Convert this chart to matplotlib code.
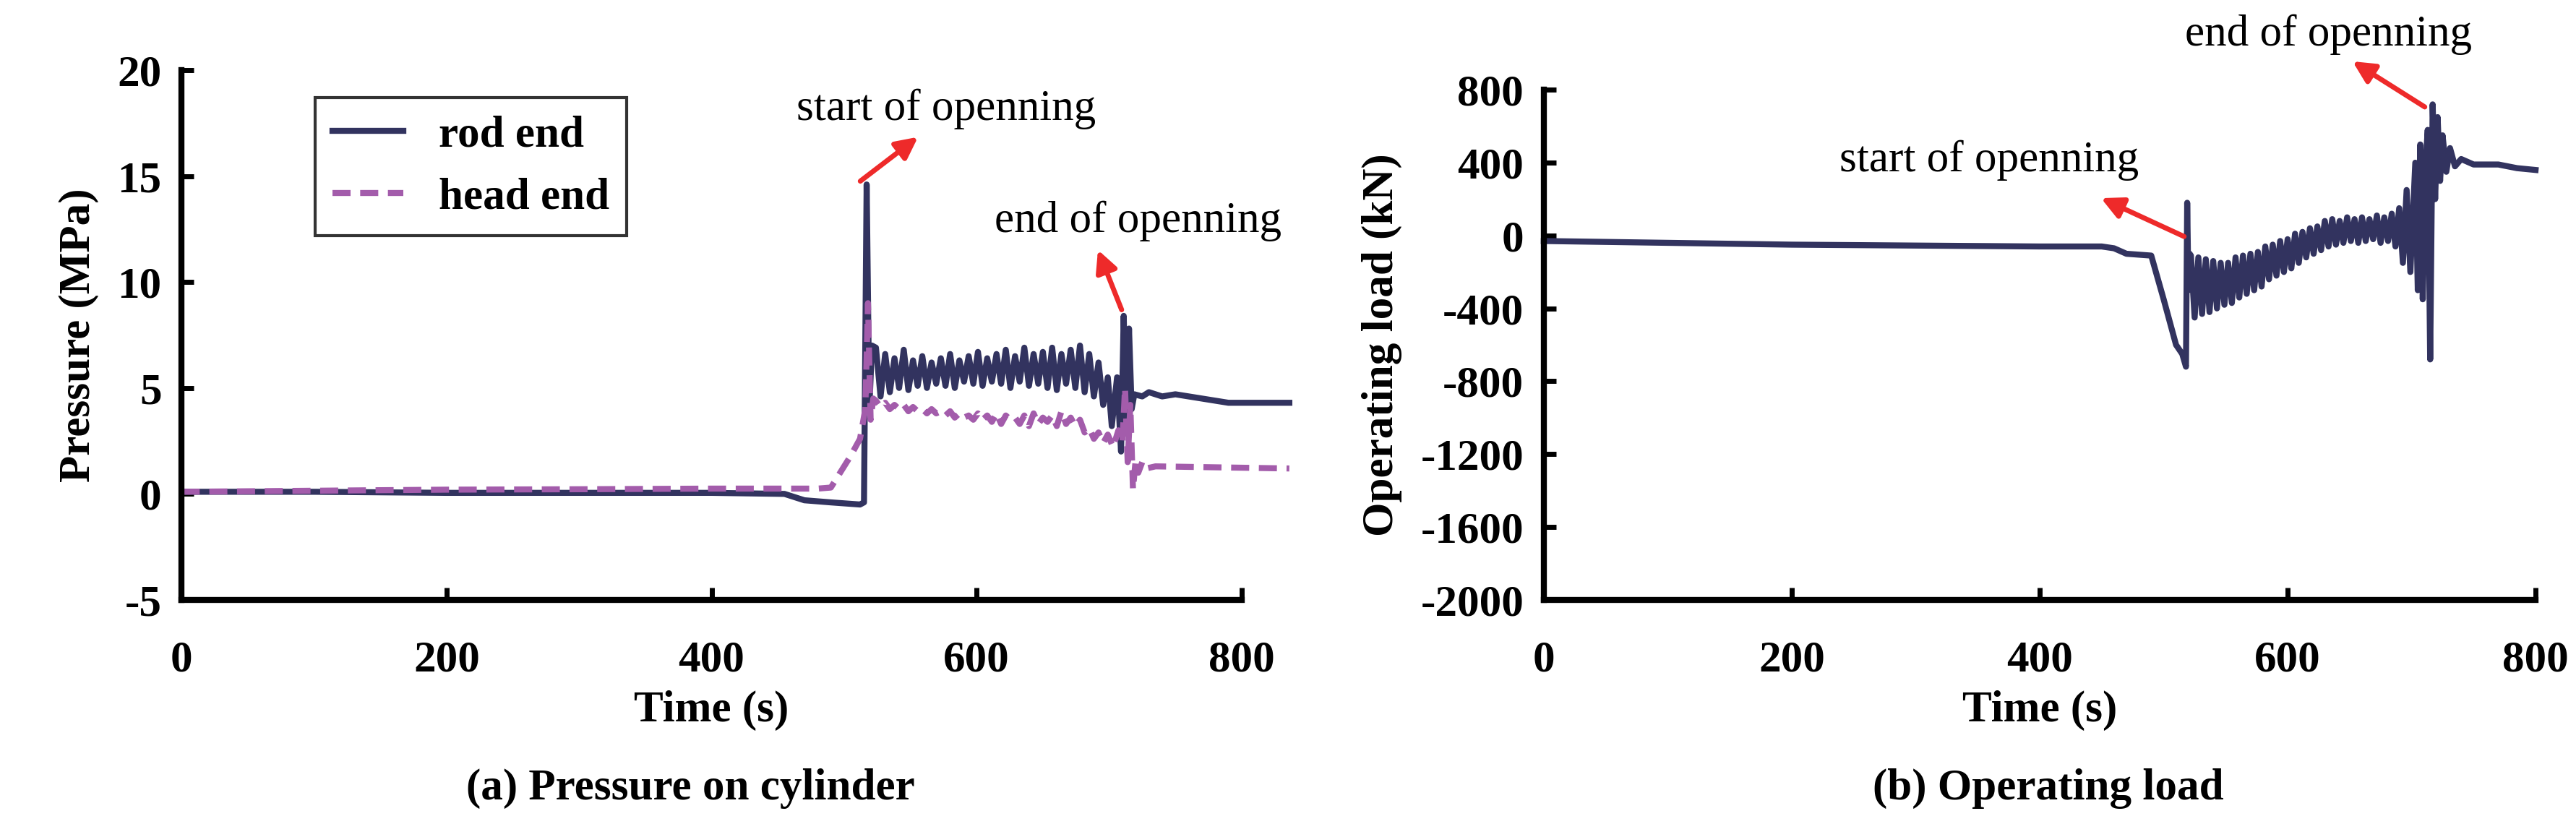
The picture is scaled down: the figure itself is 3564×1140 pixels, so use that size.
import numpy as np
import matplotlib
matplotlib.use("Agg")
import matplotlib.pyplot as plt

plt.rcParams['font.family'] = ['Liberation Serif', 'DejaVu Serif']
plt.rcParams['axes.unicode_minus'] = False

NAVY = '#32335f'
PURPLE = '#a35cab'
RED = '#ee2a2a'

# ---- pressure, rod end ----
rod_t_pre = [0, 100, 200, 300, 400, 455, 470, 490, 512, 515, 517, 519, 521]
rod_p_pre = [0.1, 0.1, 0.05, 0.05, 0.05, 0.0, -0.3, -0.4, -0.5, -0.4, 14.6, 4.0, 7.0]
rod_t_osc = np.arange(524, 700, 3.5)
rod_p_osc = [6.9, 4.6, 6.6, 4.8, 6.4, 5.0, 6.8, 4.9, 6.3, 5.1, 6.5, 5.0, 6.2, 5.2, 6.4, 5.1, 6.6,
             5.0, 6.3, 5.3, 6.5, 5.2, 6.7, 5.1, 6.4, 5.3, 6.6, 5.2, 6.8, 5.0, 6.5, 5.3, 6.9, 5.1,
             6.6, 5.2, 6.7, 5.0, 6.9, 4.9, 6.6, 5.2, 6.8, 5.0, 7.0, 4.8, 6.6, 4.6, 6.2, 4.2, 5.5]
rod_t_post = [702, 706, 709, 711, 713, 715, 717, 719, 725, 730, 740, 750, 770, 790, 836]
rod_p_post = [3.2, 5.5, 2.0, 8.4, 3.0, 7.8, 4.0, 4.7, 4.6, 4.8, 4.6, 4.7, 4.5, 4.3, 4.3]

# ---- pressure, head end ----
head_t_pre = [0, 100, 200, 300, 400, 480, 490, 495, 505, 512, 516, 518, 520, 522]
head_p_pre = [0.1, 0.15, 0.2, 0.22, 0.25, 0.25, 0.3, 0.8, 1.8, 2.6, 4.0, 9.0, 3.5, 4.5]
head_t_osc = np.arange(524, 700, 3.5)
head_p_osc = [4.4, 4.1, 4.3, 4.0, 4.2, 4.0, 4.2, 3.9, 4.1, 3.9, 4.0, 3.8, 4.0, 3.8, 3.9, 3.7, 3.9,
              3.6, 3.8, 3.6, 3.7, 3.5, 3.8, 3.5, 3.7, 3.4, 3.8, 3.3, 3.7, 3.5, 3.6, 3.3, 3.7, 3.2,
              3.8, 3.3, 3.6, 3.4, 3.7, 3.2, 3.9, 3.3, 3.6, 3.2, 3.5, 2.9, 3.1, 2.6, 2.9, 2.4, 2.8]
head_t_post = [703, 707, 710, 712, 714, 716, 718, 720, 722, 725, 728, 735, 836]
head_p_post = [2.2, 3.0, 2.4, 5.0, 1.5, 4.2, 0.2, 1.6, 1.0, 1.5, 1.2, 1.3, 1.2]

# ---- operating load ----
load_t_pre = [0, 100, 200, 300, 400, 450, 460, 470, 490, 500, 510, 515, 518, 519, 520, 521]
load_v_pre = [-30, -40, -50, -55, -60, -60, -70, -100, -110, -350, -600, -650, -720, 180, -300, -100]
load_t_osc = np.arange(522, 702, 3)
load_v_osc = [-110, -450, -120, -430, -130, -420, -140, -400, -150, -380, -150, -370,
              -120, -340, -110, -320, -100, -300, -90, -280,
              -60, -240, -50, -220, -30, -200, -20, -180,
              10, -150, 20, -120, 40, -100, 50, -80,
              80, -60, 90, -50, 80, -40, 100, -30, 90, -40,
              100, -30, 90, -20, 110, -40, 100, -30, 120, -60,
              150, -150, 250, -200]
load_t_post = [703, 705, 707, 709, 711, 713, 715, 717, 719, 721, 723, 725, 728, 731, 735, 740, 750, 770, 785, 800]
load_v_post = [400, -300, 500, -350, 350, 580, -680, 720, 200, 650, 300, 550, 350, 480, 380, 420, 390, 390, 370, 360]

rod_t = np.concatenate([rod_t_pre, rod_t_osc, rod_t_post])
rod_p = np.concatenate([rod_p_pre, rod_p_osc, rod_p_post])
head_t = np.concatenate([head_t_pre, head_t_osc, head_t_post])
head_p = np.concatenate([head_p_pre, head_p_osc, head_p_post])
load_t = np.concatenate([load_t_pre, load_t_osc, load_t_post])
load_v = np.concatenate([load_v_pre, load_v_osc, load_v_post])

FS = 44
LW = 6
fig = plt.figure(figsize=(35.64, 11.4), dpi=100)


def style_axes(ax):
    for s in ['top', 'right']:
        ax.spines[s].set_visible(False)
    for s in ['left', 'bottom']:
        ax.spines[s].set_linewidth(6)
    ax.tick_params(width=5, length=12, direction='in', labelsize=FS, pad=40)
    for lab in ax.get_xticklabels() + ax.get_yticklabels():
        lab.set_fontweight('bold')
    ax.tick_params(axis='y', pad=20)


# (a) pressure
ax1 = fig.add_axes([0.0705, 0.272, 0.4115, 0.643])
ax1.plot(rod_t, rod_p, color=NAVY, lw=LW, label='rod end', clip_on=False)
ax1.plot(head_t, head_p, color=PURPLE, lw=LW, ls=(0, (3, 1.6)), label='head end', clip_on=False)
ax1.set_xlim(0, 800)
ax1.set_ylim(-5, 20)
ax1.set_xticks([0, 200, 400, 600, 800])
ax1.set_yticks([-5, 0, 5, 10, 15, 20])
style_axes(ax1)
ax1.set_ylabel('Pressure (MPa)', fontsize=FS, fontweight='bold', labelpad=18)
ax1.set_xlabel('Time (s)', fontsize=FS, fontweight='bold', labelpad=10)
leg = ax1.legend(loc='upper left', bbox_to_anchor=(0.105, 0.99),
                 prop={'weight': 'bold', 'size': FS}, frameon=True, fancybox=False,
                 handlelength=1.6, borderpad=0.4, labelspacing=0.5)
leg.get_frame().set_edgecolor('black')
leg.get_frame().set_linewidth(3)
ax1.annotate('', xy=(557, 16.9), xytext=(511, 14.7),
             arrowprops=dict(arrowstyle='-|>', color=RED, lw=5, mutation_scale=45))
ax1.text(577, 17.2, 'start of openning', fontsize=FS, ha='center', va='bottom')
ax1.annotate('', xy=(691, 11.6), xytext=(710, 8.6),
             arrowprops=dict(arrowstyle='-|>', color=RED, lw=5, mutation_scale=45))
ax1.text(722, 11.9, 'end of openning', fontsize=FS, ha='center', va='bottom')
fig.text(0.268, 0.03, '(a) Pressure on cylinder', fontsize=FS, fontweight='bold', ha='center')

# (b) operating load
ax2 = fig.add_axes([0.5993, 0.272, 0.385, 0.619])
ax2.plot(load_t, load_v, color=NAVY, lw=LW, clip_on=False)
ax2.set_xlim(0, 800)
ax2.set_ylim(-2000, 800)
ax2.set_xticks([0, 200, 400, 600, 800])
ax2.set_yticks(np.arange(-2000, 801, 400))
style_axes(ax2)
ax2.set_ylabel('Operating load (kN)', fontsize=FS, fontweight='bold', labelpad=18)
ax2.set_xlabel('Time (s)', fontsize=FS, fontweight='bold', labelpad=10)
ax2.annotate('', xy=(448, 210), xytext=(518, -10),
             arrowprops=dict(arrowstyle='-|>', color=RED, lw=5, mutation_scale=45))
ax2.text(359, 300, 'start of openning', fontsize=FS, ha='center', va='bottom')
ax2.annotate('', xy=(651, 962), xytext=(712, 700),
             arrowprops=dict(arrowstyle='-|>', color=RED, lw=5, mutation_scale=45), annotation_clip=False)
ax2.text(633, 990, 'end of openning', fontsize=FS, ha='center', va='bottom', clip_on=False)
fig.text(0.795, 0.03, '(b) Operating load', fontsize=FS, fontweight='bold', ha='center')

fig.savefig('out.png', dpi=100)
